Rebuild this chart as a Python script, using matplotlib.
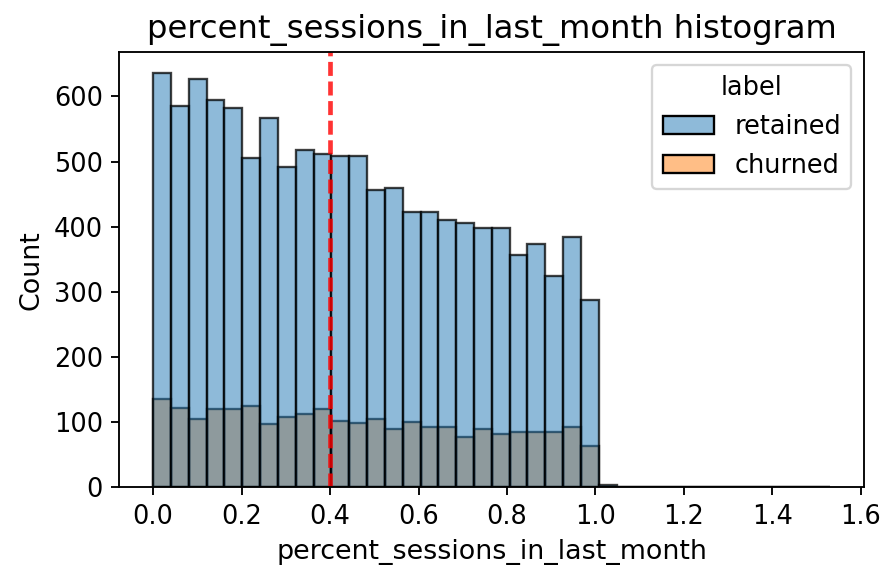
import numpy as np
import matplotlib
matplotlib.use("Agg")
import matplotlib.pyplot as plt
from matplotlib.patches import Patch

# ---- data ----
bin_start = 0.0
bin_width = 0.0403
retained_counts = [636, 586, 627, 595, 583, 505, 567, 492, 518, 512,
                   509, 509, 456, 460, 422, 422, 410, 406, 398, 398,
                   357, 373, 324, 385, 287, 3, 0, 0, 0, 0,
                   0, 0, 0, 0, 0, 0, 0, 1]
churned_counts = [135, 121, 105, 120, 120, 125, 97, 108, 113, 120,
                  102, 98, 105, 90, 101, 92, 92, 77, 90, 82,
                  85, 85, 85, 93, 64, 1, 0, 0, 0, 0,
                  0, 0, 0, 0, 0, 0, 0, 0]
hue_labels = ["retained", "churned"]
threshold = 0.4
title = "percent_sessions_in_last_month histogram"
xlabel = "percent_sessions_in_last_month"
ylabel = "Count"

DPI = 168
fig = plt.figure(figsize=(883 / DPI, 575 / DPI), dpi=DPI)
ax = fig.add_axes([119.3 / 883, (575 - 487.3) / 575,
                   (864.3 - 119.3) / 883, (487.3 - 52.3) / 575])

n = len(retained_counts)
edges = bin_start + bin_width * np.arange(n)
blue_face = (0x1f / 255, 0x77 / 255, 0xb4 / 255, 0.5)
orange_face = (1.0, 0x7f / 255, 0x0e / 255, 0.5)
edge_col = (0, 0, 0, 0.75)

# churned drawn first, retained on top (seaborn layered order)
ax.bar(edges, churned_counts, width=bin_width, align="edge",
       facecolor=orange_face, edgecolor=edge_col, linewidth=1.0)
ax.bar(edges, retained_counts, width=bin_width, align="edge",
       facecolor=blue_face, edgecolor=edge_col, linewidth=1.0)

ax.axvline(threshold, color="red", linewidth=2, alpha=0.8,
           linestyle=(0, (3.0, 1.2)))

data_max = edges[-1] + bin_width
ax.set_xlim(-0.05 * data_max, 1.05 * data_max)
ax.set_ylim(0, max(retained_counts) * 1.05)
xt = np.arange(0, 1.61, 0.2)
ax.set_xticks(xt)
ax.set_xticklabels([f"{t:.1f}" for t in xt])
ax.set_yticks(np.arange(0, 601, 100))
ax.tick_params(labelsize=11)

ax.set_title(title, fontsize=13.8)
ax.set_xlabel(xlabel, fontsize=11.5)
ax.set_ylabel(ylabel, fontsize=11.5)

handles = [Patch(facecolor=blue_face, edgecolor="black", linewidth=1.0),
           Patch(facecolor=orange_face, edgecolor="black", linewidth=1.0)]
ax.legend(handles, hue_labels, title="label", loc="upper right",
          fontsize=11, title_fontsize=11)

fig.savefig("out.png", dpi=DPI)
